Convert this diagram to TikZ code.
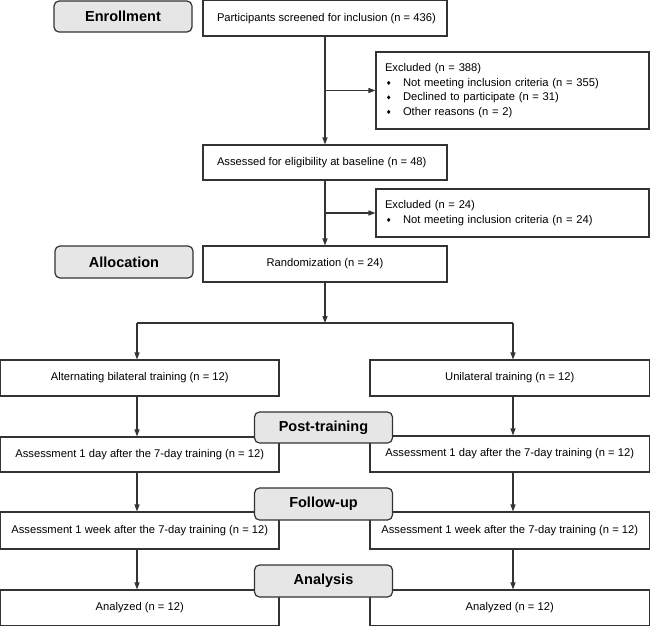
\documentclass[tikz,border=0pt]{standalone}
\usepackage{fontspec}
\setmainfont{Liberation Sans}
\usetikzlibrary{arrows.meta}
\definecolor{edgec}{HTML}{333333}
\definecolor{headfill}{HTML}{E6E6E6}
\newcommand{\mydiam}{\tikz[baseline=-0.55ex]\fill (0,2.1pt)--(1.7pt,0)--(0,-2.1pt)--(-1.7pt,0)--cycle;}
\newcommand{\myitem}[1]{\hspace*{2pt}\makebox[16pt][l]{\mydiam}#1}
\begin{document}
\begin{tikzpicture}[x=1pt,y=-1pt,
  box/.style={draw=edgec, line width=1.1pt, fill=white, inner sep=0pt, font=\fontsize{11.2}{14.5}\selectfont},
  leftbox/.style={box, align=left},
  head/.style={draw=edgec, line width=1.2pt, fill=headfill, rounded corners=5pt, inner sep=0pt, font=\fontsize{14.5}{16}\selectfont\bfseries},
  conn/.style={draw=edgec, line width=1.1pt},
  arr/.style={conn, -{Triangle[length=7pt,width=5pt]}}]
\useasboundingbox (0,0) rectangle (650,626);

% boxes
\node[box, minimum width=244pt, minimum height=35.5pt] (scr) at (325,18.25) {\makebox[216pt][l]{Participants screened for inclusion (n = 436)}};
\node[leftbox, inner xsep=9pt, text width=255pt, minimum height=77pt] (ex1) at (512.5,90.5) {Excluded (n = 388)\\
\myitem{Not meeting inclusion criteria (n = 355)}\\
\myitem{Declined to participate (n = 31)}\\
\myitem{Other reasons (n = 2)}};
\node[box, minimum width=244pt, minimum height=35pt] (ass) at (325,162.5) {\makebox[216pt][l]{Assessed for eligibility at baseline (n = 48)}};
\node[leftbox, inner xsep=9pt, text width=255pt, minimum height=48pt] (ex2) at (512.5,213) {Excluded (n = 24)\\
\myitem{Not meeting inclusion criteria (n = 24)}};
\node[box, minimum width=244pt, minimum height=36pt] (rand) at (325,264) {Randomization (n = 24)};

\node[box, minimum width=278.5pt, minimum height=36pt] (alt) at (139.75,378) {Alternating bilateral training (n = 12)};
\node[box, minimum width=279.5pt, minimum height=36pt] (uni) at (509.75,378) {Unilateral training (n = 12)};
\node[box, minimum width=278.5pt, minimum height=35pt] (dayl) at (139.75,454.5) {Assessment 1 day after the 7-day training (n = 12)};
\node[box, minimum width=279.5pt, minimum height=36pt] (dayr) at (509.75,454) {Assessment 1 day after the 7-day training (n = 12)};
\node[box, minimum width=278.5pt, minimum height=37pt] (wkl) at (139.75,530.5) {Assessment 1 week after the 7-day training (n = 12)};
\node[box, minimum width=279.5pt, minimum height=37pt] (wkr) at (509.75,530.5) {Assessment 1 week after the 7-day training (n = 12)};
\node[box, minimum width=278.5pt, minimum height=35.5pt] (anl) at (139.75,607.75) {Analyzed (n = 12)};
\node[box, minimum width=279.5pt, minimum height=35.5pt] (anr) at (509.75,607.75) {Analyzed (n = 12)};

% headings
\node[head, minimum width=138pt, minimum height=31pt] (enr) at (123,16.5) {Enrollment};
\node[head, minimum width=138pt, minimum height=32pt] (alloc) at (124,262) {Allocation};
\node[head, minimum width=138pt, minimum height=31pt] (post) at (323.5,427.5) {Post-training};
\node[head, minimum width=138pt, minimum height=32pt] (fol) at (323.5,504) {Follow-up};
\node[head, minimum width=138pt, minimum height=32pt] (ana) at (323.5,581) {Analysis};

% connectors
\coordinate (split) at (325,323);
\coordinate (sl) at (137,323);
\coordinate (sr) at (513,323);
\draw[arr] (scr.south) -- (ass.north);
\draw[arr] (scr.south |- ex1.west) -- (ex1.west);
\draw[arr] (ass.south) -- (rand.north);
\draw[arr] (ass.south |- ex2.west) -- (ex2.west);
\draw[arr] (rand.south) -- (split);
\draw[conn] (sl) -- (sr);
\draw[arr] (sl) -- (sl |- alt.north);
\draw[arr] (sr) -- (sr |- uni.north);
\draw[arr] (sl |- alt.south) -- (sl |- dayl.north);
\draw[arr] (sr |- uni.south) -- (sr |- dayr.north);
\draw[arr] (sl |- dayl.south) -- (sl |- wkl.north);
\draw[arr] (sr |- dayr.south) -- (sr |- wkr.north);
\draw[arr] (sl |- wkl.south) -- (sl |- anl.north);
\draw[arr] (sr |- wkr.south) -- (sr |- anr.north);
\end{tikzpicture}
\end{document}
